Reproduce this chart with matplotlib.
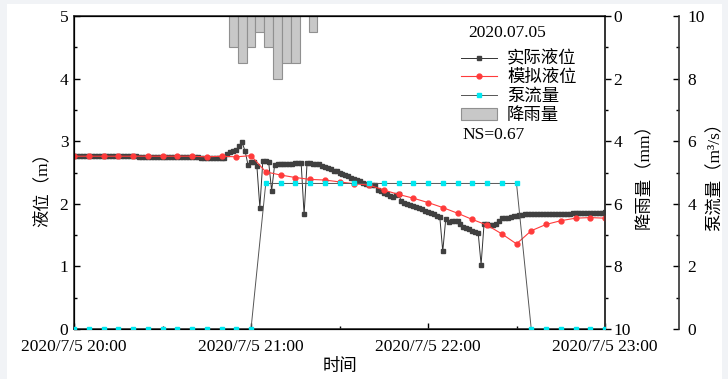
import numpy as np
import matplotlib.pyplot as plt
from matplotlib.lines import Line2D
from matplotlib.patches import Patch, Rectangle

plt.rcParams['font.family'] = ['Liberation Serif', 'Noto Sans CJK SC']
plt.rcParams['font.size'] = 12.5

# minutes after 2020/7/5 20:00
t_actual = np.arange(0, 181)
level_actual = [
    2.77, 2.77, 2.77, 2.77, 2.76, 2.76, 2.76, 2.76, 2.76, 2.76,
    2.76, 2.76, 2.76, 2.76, 2.76, 2.76, 2.76, 2.76, 2.76, 2.76,
    2.76, 2.76, 2.75, 2.75, 2.75, 2.75, 2.75, 2.75, 2.75, 2.75,
    2.75, 2.75, 2.75, 2.74, 2.74, 2.74, 2.74, 2.74, 2.74, 2.74,
    2.74, 2.74, 2.74, 2.73, 2.73, 2.73, 2.73, 2.73, 2.73, 2.73,
    2.73, 2.73, 2.80, 2.82, 2.84, 2.86, 2.93, 2.98, 2.84, 2.62,
    2.66, 2.66, 2.60, 1.94, 2.68, 2.68, 2.66, 2.21, 2.62, 2.63,
    2.63, 2.63, 2.64, 2.64, 2.64, 2.65, 2.65, 2.65, 1.83, 2.65,
    2.65, 2.64, 2.64, 2.63, 2.61, 2.59, 2.57, 2.55, 2.53, 2.52,
    2.50, 2.48, 2.46, 2.44, 2.42, 2.40, 2.38, 2.36, 2.34, 2.31,
    2.30, 2.30, 2.30, 2.22, 2.20, 2.18, 2.16, 2.12, 2.11, 2.14,
    2.15, 2.04, 2.02, 2.00, 1.98, 1.97, 1.95, 1.93, 1.91, 1.89,
    1.87, 1.85, 1.83, 1.81, 1.79, 1.24, 1.75, 1.71, 1.72, 1.73,
    1.72, 1.67, 1.63, 1.61, 1.59, 1.57, 1.55, 1.54, 1.03, 1.68,
    1.67, 1.66, 1.66, 1.68, 1.72, 1.77, 1.78, 1.78, 1.79, 1.80,
    1.81, 1.82, 1.82, 1.83, 1.83, 1.83, 1.83, 1.83, 1.83, 1.83,
    1.83, 1.83, 1.83, 1.83, 1.84, 1.84, 1.84, 1.84, 1.84, 1.85,
    1.85, 1.85, 1.85, 1.85, 1.85, 1.86, 1.86, 1.86, 1.86, 1.86, 1.87,
]

t_sim = np.arange(0, 181, 5)
level_sim = [
    2.76, 2.76, 2.76, 2.76, 2.76, 2.76, 2.76, 2.76, 2.76, 2.75,
    2.76, 2.75, 2.77, 2.51, 2.46, 2.42, 2.39, 2.38, 2.35, 2.32,
    2.30, 2.22, 2.15, 2.09, 2.02, 1.94, 1.85, 1.75, 1.66, 1.52,
    1.36, 1.57, 1.67, 1.73, 1.77, 1.78, 1.77,
]
pump_flow = [
    0, 0, 0, 0, 0, 0, 0, 0, 0, 0, 0, 0, 0,
    4.65, 4.65, 4.65, 4.65, 4.65, 4.65, 4.65, 4.65, 4.65,
    4.65, 4.65, 4.65, 4.65, 4.65, 4.65, 4.65, 4.65, 4.65,
    0, 0, 0, 0, 0, 0,
]

t_rain = [54, 57, 60, 63, 66, 69, 72, 75, 78, 81]
rain = [1.0, 1.5, 1.0, 0.5, 1.0, 2.0, 1.5, 1.5, 0, 0.5]

xticks = [0, 60, 120, 180]
xlabels = ['2020/7/5 20:00', '2020/7/5 21:00', '2020/7/5 22:00', '2020/7/5 23:00']

fig = plt.figure(figsize=(7.28, 3.79), dpi=100, facecolor='#f1f3f6')
fig.patches.append(Rectangle((7 / 728, 0), 715 / 728, 375 / 379,
                             transform=fig.transFigure, facecolor='white',
                             edgecolor='none', zorder=-10))

ax = fig.add_axes([74 / 728, 50 / 379, 531 / 728, 313 / 379])
ax.set_facecolor('none')
ax.plot(t_actual, level_actual, color='#333333', lw=0.7, marker='s',
        ms=2.6, mfc='#404040', mec='#404040', zorder=3)
ax.plot(t_sim, level_sim, color='#ff3b3b', lw=0.8, marker='o', ms=3.5,
        mfc='#ff3b3b', mec='#ff3b3b', zorder=4)
ax.set_xlim(0, 180)
ax.set_ylim(0, 5)
ax.set_xticks(xticks)
ax.set_xticklabels(xlabels)
ax.set_xticks([30, 90, 150], minor=True)
ax.set_yticks([0, 1, 2, 3, 4, 5])
ax.set_yticks([0.5, 1.5, 2.5, 3.5, 4.5], minor=True)
ax.tick_params(direction='in', length=4, width=1, pad=4)
ax.tick_params(axis='x', pad=7)
ax.tick_params(which='minor', direction='in', length=2.5, width=1)
ax.set_xlabel('时间', labelpad=3)
ax.set_ylabel('液位（m）')
ax.yaxis.set_label_coords(-0.042, 0.46)
for s in ax.spines.values():
    s.set_linewidth(1.2)
    s.set_color('#333333')

# rainfall axis, inverted
ax2 = ax.twinx()
ax2.bar(t_rain, rain, width=3, color='#c8c8c8', edgecolor='#909090',
        linewidth=0.8, align='center')
ax2.set_ylim(10, 0)
ax2.set_yticks([0, 2, 4, 6, 8, 10])
ax2.set_yticks([1, 3, 5, 7, 9], minor=True)
ax2.tick_params(direction='out', length=4, width=1, pad=2)
ax2.tick_params(which='minor', direction='out', length=2.5, width=1)
ax2.set_ylabel('降雨量（mm）', labelpad=4)
ax2.spines['right'].set_linewidth(1.2)
ax2.spines['right'].set_color('#333333')

# pump flow axis
ax3 = ax.twinx()
ax3.spines['right'].set_position(('axes', 605 / 531))
ax3.plot(t_sim, pump_flow, color='#555555', lw=0.7, marker='s', ms=3,
         mfc='#00e8f0', mec='#00e8f0', zorder=5)
ax3.set_ylim(0, 10)
ax3.set_yticks([0, 2, 4, 6, 8, 10])
ax3.set_yticks([1, 3, 5, 7, 9], minor=True)
ax3.tick_params(direction='in', length=4, width=1, pad=6)
ax3.tick_params(which='minor', direction='in', length=2.5, width=1)
ax3.set_ylabel('泵流量（m³/s）', labelpad=2)
ax3.spines['right'].set_linewidth(1.2)
ax3.spines['right'].set_color('#333333')

handles = [
    Line2D([], [], color='#333333', lw=0.7, marker='s', ms=2.6, mfc='#404040', mec='#404040'),
    Line2D([], [], color='#ff3b3b', lw=0.8, marker='o', ms=3.5, mfc='#ff3b3b', mec='#ff3b3b'),
    Line2D([], [], color='#555555', lw=0.7, marker='s', ms=3, mfc='#00e8f0', mec='#00e8f0'),
    Patch(facecolor='#c8c8c8', edgecolor='#909090', linewidth=0.8),
]
leg = ax3.legend(handles, ['实际液位', '模拟液位', '泵流量', '降雨量'],
                 loc='upper left', bbox_to_anchor=(461 / 728, 1 - 51 / 379),
                 bbox_transform=fig.transFigure, frameon=False,
                 handlelength=2.1, handletextpad=0.55, labelspacing=0.15,
                 borderaxespad=0, borderpad=0, fontsize=12.5)
fig.text(468 / 728, 1 - 33 / 379, '2020.07.05', fontsize=12.5, va='center')
fig.text(462 / 728, 1 - 135 / 379, 'NS=0.67', fontsize=12.5, va='center')

fig.savefig('out.png', dpi=100, facecolor=fig.get_facecolor())
